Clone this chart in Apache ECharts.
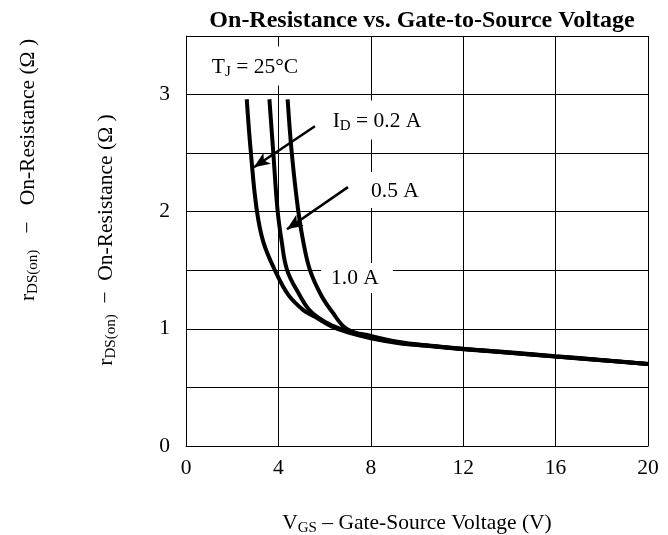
<!DOCTYPE html>
<html>
<head>
<meta charset="utf-8">
<script src="https://cdn.jsdelivr.net/npm/echarts@6/dist/echarts.min.js"></script>
<style>
html,body{margin:0;padding:0;background:#fff;}
#chart{width:668px;height:535px;}
</style>
</head>
<body>
<div id="chart"></div>
<script>
// Data
const vgs02 = [2.63, 2.81, 3.06, 3.35, 3.85, 4.43, 5.08, 5.6, 6.3, 7, 8, 9.3, 10.4, 12, 14, 16, 18, 20];
const rds02 = [2.96, 2.5, 2.02, 1.74, 1.5, 1.29, 1.16, 1.1, 1.02, 0.97, 0.92, 0.875, 0.855, 0.826, 0.795, 0.763, 0.732, 0.70];
const vgs05 = [3.61, 3.78, 3.96, 4.14, 4.38, 4.94, 5.3, 5.7, 6.3, 7, 8, 9.3, 10.4, 12, 14, 16, 18, 20];
const rds05 = [2.96, 2.5, 2.02, 1.75, 1.5, 1.28, 1.17, 1.1, 1.03, 0.98, 0.93, 0.88, 0.858, 0.828, 0.797, 0.765, 0.733, 0.70];
const vgs10 = [4.40, 4.58, 4.85, 5.08, 5.37, 5.87, 6.31, 6.96, 8, 9.3, 10.4, 12, 14, 16, 18, 20];
const rds10 = [2.96, 2.5, 2.02, 1.74, 1.5, 1.28, 1.15, 1.0, 0.94, 0.885, 0.86, 0.83, 0.8, 0.767, 0.735, 0.70];
const xTicks = [0, 4, 8, 12, 16, 20];
const yTicks = [0, 1, 2, 3];
const arrow02 = [[5.58, 2.73], [2.94, 2.38]];
const arrow05 = [[7.01, 2.21], [4.37, 1.85]];

const FONT = "'Liberation Serif', 'Times New Roman', serif";
const zip = (a, b) => a.map((v, i) => [v, b[i]]);

const chart = echarts.init(document.getElementById('chart'), null, {renderer: 'canvas'});

const subRich = {
  n: {fontFamily: FONT, fontSize: 21.5, color: '#000'},
  s: {fontFamily: FONT, fontSize: 15, color: '#000', padding: [10, 0, 0, 0]}
};

function curve(name, xs, ys) {
  return {
    name: name, type: 'line', data: zip(xs, ys), showSymbol: false,
    smooth: 0.4,
    lineStyle: {color: '#000', width: 4}, z: 3
  };
}

function arrowLine(pts) {
  return [{coord: pts[0], symbol: 'none'}, {coord: pts[1], symbol: 'arrow', symbolSize: [10, 16]}];
}

const series = [
  curve('0.2 A', vgs02, rds02),
  curve('0.5 A', vgs05, rds05),
  curve('1.0 A', vgs10, rds10)
];
series[0].markLine = {
  silent: true, animation: false,
  lineStyle: {color: '#000', width: 2.5, type: 'solid'},
  itemStyle: {color: '#000'},
  label: {show: false},
  data: [arrowLine(arrow02), arrowLine(arrow05)]
};

function note(text, x, y, pad) {
  return {
    type: 'text', x: x, y: y, z: 1,
    style: {
      text: text, rich: subRich, align: 'center', verticalAlign: 'middle',
      backgroundColor: '#fff', padding: pad
    }
  };
}

chart.setOption({
  animation: false,
  backgroundColor: '#fff',
  title: {
    text: 'On-Resistance vs. Gate-to-Source Voltage',
    left: 417, top: 4, textAlign: 'center',
    textStyle: {fontFamily: FONT, fontSize: 24, fontWeight: 'bold', color: '#000'}
  },
  grid: {left: 186, right: 20, top: 36, bottom: 89, containLabel: false, outerBoundsMode: 'none'},
  xAxis: {
    type: 'value', min: 0, max: 20, interval: 4,
    name: '{n|V}{s|GS}{n| – Gate-Source Voltage (V)}',
    nameLocation: 'middle', nameGap: 65,
    nameTextStyle: {rich: subRich},
    axisLine: {show: true, lineStyle: {color: '#000', width: 1}},
    axisTick: {show: false},
    axisLabel: {
      margin: 11, fontFamily: FONT, fontSize: 21.5, color: '#000',
      formatter: v => xTicks.includes(v) ? String(v) : ''
    },
    splitLine: {show: true, lineStyle: {color: '#000', width: 1}}
  },
  yAxis: {
    type: 'value', min: 0, max: 3.5, interval: 0.5,
    axisLine: {show: true, lineStyle: {color: '#000', width: 1}},
    axisTick: {show: false},
    axisLabel: {
      margin: 16, fontFamily: FONT, fontSize: 21.5, color: '#000',
      formatter: v => yTicks.includes(v) ? String(v) : ''
    },
    splitLine: {show: true, lineStyle: {color: '#000', width: 1}}
  },
  graphic: [
    {
      type: 'text', x: 28, y: 170, rotation: Math.PI / 2, z: 10,
      style: {
        text: '{n|r}{s|DS(on)}{n|   −   On-Resistance (Ω )}',
        rich: subRich, align: 'center', verticalAlign: 'middle'
      }
    },
    {
      type: 'text', x: 106, y: 240, rotation: Math.PI / 2, z: 10,
      style: {
        text: '{n|r}{s|DS(on)}{n|  −  On-Resistance (Ω )}',
        rich: subRich, align: 'center', verticalAlign: 'middle'
      }
    },
    note('{n|T}{s|J}{n| = 25°C}', 255, 66, [8, 8, 6, 8]),
    note('{n|I}{s|D}{n| = 0.2 A}', 377, 120, [8, 8, 6, 8]),
    note('{n|0.5 A}', 395, 190, [8, 8, 6, 8]),
    note('{n|1.0 A}', 357, 278, [4, 14, 4, 10])
  ],
  series: series
});
</script>
</body>
</html>
